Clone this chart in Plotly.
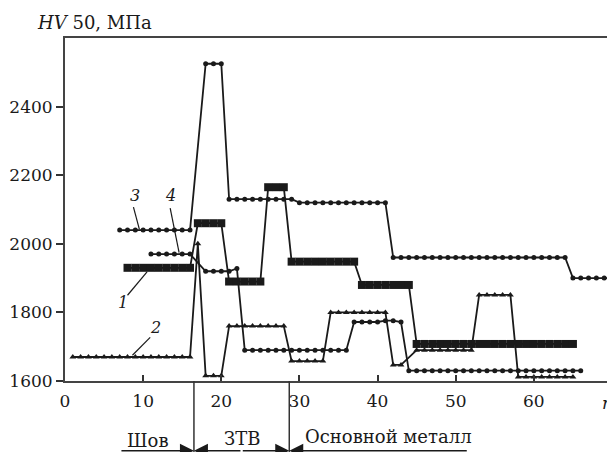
import plotly.graph_objects as go

# ---- data ----
x_ticks = [0, 10, 20, 30, 40, 50, 60]
y_ticks = [1600, 1800, 2000, 2200, 2400]

s1_x = [8, 9, 10, 11, 12, 13, 14, 15, 16,
        17, 18, 19, 20,
        21, 22, 23, 24, 25,
        26, 27, 28,
        29, 30, 31, 32, 33, 34, 35, 36, 37,
        38, 39, 40, 41, 42, 43, 44,
        45, 46, 47, 48, 49, 50, 51, 52, 53, 54, 55, 56, 57, 58, 59, 60, 61, 62, 63, 64, 65]
s1_y = [1930, 1930, 1930, 1930, 1930, 1930, 1930, 1930, 1930,
        2060, 2060, 2060, 2060,
        1890, 1890, 1890, 1890, 1890,
        2165, 2165, 2165,
        1948, 1948, 1948, 1948, 1948, 1948, 1948, 1948, 1948,
        1880, 1880, 1880, 1880, 1880, 1880, 1880,
        1708, 1708, 1708, 1708, 1708, 1708, 1708, 1708, 1708, 1708, 1708, 1708, 1708, 1708,
        1708, 1708, 1708, 1708, 1708, 1708, 1708]

s2_x = [1, 2, 3, 4, 5, 6, 7, 8, 9, 10, 11, 12, 13, 14, 15, 16,
        17,
        18, 19, 20,
        21, 22, 23, 24, 25, 26, 27, 28,
        29, 30, 31, 32, 33,
        34, 35, 36, 37, 38, 39, 40, 41,
        42, 43,
        45, 46, 47, 48, 49, 50, 51, 52,
        53, 54, 55, 56, 57,
        58, 59, 60, 61, 62, 63, 64, 65]
s2_y = [1670, 1670, 1670, 1670, 1670, 1670, 1670, 1670, 1670, 1670, 1670, 1670, 1670, 1670, 1670, 1670,
        2000,
        1615, 1615, 1615,
        1760, 1760, 1760, 1760, 1760, 1760, 1760, 1760,
        1658, 1658, 1658, 1658, 1658,
        1800, 1800, 1800, 1800, 1800, 1800, 1800, 1800,
        1647, 1647,
        1690, 1690, 1690, 1690, 1690, 1690, 1690, 1690,
        1851, 1851, 1851, 1851, 1851,
        1612, 1612, 1612, 1612, 1612, 1612, 1612, 1612]

s3_x = [7, 8, 9, 10, 11, 12, 13, 14, 15, 16,
        18, 19, 20,
        21, 22, 23, 24, 25, 26, 27, 28, 29,
        30, 31, 32, 33, 34, 35, 36, 37, 38, 39, 40, 41,
        42, 43, 44, 45, 46, 47, 48, 49, 50, 51, 52, 53, 54, 55, 56, 57, 58, 59, 60, 61, 62, 63, 64,
        65, 66, 67, 68, 69, 70]
s3_y = [2040, 2040, 2040, 2040, 2040, 2040, 2040, 2040, 2040, 2040,
        2525, 2525, 2525,
        2130, 2130, 2130, 2130, 2130, 2130, 2130, 2130, 2130,
        2120, 2120, 2120, 2120, 2120, 2120, 2120, 2120, 2120, 2120, 2120, 2120,
        1960, 1960, 1960, 1960, 1960, 1960, 1960, 1960, 1960, 1960, 1960, 1960, 1960, 1960,
        1960, 1960, 1960, 1960, 1960, 1960, 1960, 1960, 1960,
        1900, 1900, 1900, 1900, 1900, 1900]

s4_x = [11, 12, 13, 14, 15, 16,
        18, 19, 20, 21,
        22,
        23, 24, 25, 26, 27, 28, 29, 30, 31, 32, 33, 34, 35, 36,
        37, 38, 39, 40, 41, 42, 43,
        44, 45, 46, 47, 48, 49, 50, 51, 52, 53, 54, 55, 56, 57, 58, 59, 60, 61, 62, 63, 64, 65, 66]
s4_y = [1970, 1970, 1970, 1970, 1970, 1970,
        1920, 1920, 1920, 1920,
        1928,
        1690, 1690, 1690, 1690, 1690, 1690, 1690, 1690, 1690, 1690, 1690, 1690, 1690, 1690,
        1772, 1772, 1772, 1772, 1776, 1776, 1772,
        1630, 1630, 1630, 1630, 1630, 1630, 1630, 1630, 1630, 1630, 1630, 1630, 1630, 1630,
        1630, 1630, 1630, 1630, 1630, 1630, 1630, 1630, 1630]

zone_names = ["Шов", "ЗТВ", "Основной металл"]
zone_bounds = [16.5, 28.7]

FONT = "DejaVu Serif"
INK = "#1a1a1a"

fig = go.Figure()
fig.add_trace(go.Scatter(x=s1_x, y=s1_y, mode="lines+markers",
                         line=dict(color=INK, width=1.8),
                         marker=dict(symbol="square", size=8, color=INK)))
fig.add_trace(go.Scatter(x=s2_x, y=s2_y, mode="lines+markers",
                         line=dict(color=INK, width=1.8),
                         marker=dict(symbol="triangle-up", size=6, color=INK)))
fig.add_trace(go.Scatter(x=s3_x, y=s3_y, mode="lines+markers",
                         line=dict(color=INK, width=1.8),
                         marker=dict(symbol="circle", size=5, color=INK)))
fig.add_trace(go.Scatter(x=s4_x, y=s4_y, mode="lines+markers",
                         line=dict(color=INK, width=1.8),
                         marker=dict(symbol="circle", size=5, color=INK)))

shapes = []
# leader lines for curve labels
for (x0, y0, x1, y1) in [(8.76, 2107, 9.52, 2042), (13.46, 2104, 14.6, 1974),
                         (8.0, 1850, 10.5, 1918), (10.9, 1727, 8.63, 1675)]:
    shapes.append(dict(type="line", xref="x", yref="y", x0=x0, y0=y0, x1=x1, y1=y1,
                       line=dict(color=INK, width=1.2)))
# zone divider lines below the axis
for xb in zone_bounds:
    shapes.append(dict(type="line", xref="x", yref="paper", x0=xb, x1=xb, y0=0, y1=-0.25,
                       line=dict(color="#333", width=1.5)))

annotations = [
    dict(text="<i>HV</i> 50, МПа", xref="paper", yref="paper", x=-0.055, y=1.045,
         xanchor="left", yanchor="middle", showarrow=False, font=dict(family=FONT, size=18, color=INK)),
    dict(text="<i>n</i>", xref="paper", yref="paper", x=0.978, y=-0.063, xanchor="left",
         yanchor="middle", showarrow=False, font=dict(family=FONT, size=17, color=INK)),
]
for txt, xx, yy in [("3", 9.0, 2142), ("4", 13.46, 2142), ("1", 7.37, 1830), ("2", 11.56, 1756)]:
    annotations.append(dict(text="<i>" + txt + "</i>", xref="x", yref="y", x=xx, y=yy, showarrow=False,
                            xanchor="center", yanchor="middle",
                            font=dict(family=FONT, size=16, color=INK)))
for txt, xx, yy in [(zone_names[0], 10.67, -0.174), (zone_names[1], 22.7, -0.168),
                    (zone_names[2], 41.4, -0.162)]:
    annotations.append(dict(text=txt, xref="x", yref="paper", x=xx, y=yy, showarrow=False,
                            xanchor="center", yanchor="middle",
                            font=dict(family=FONT, size=18, color=INK)))
arrow_y = -0.2032
for tip, ax in [(zone_bounds[0], -74), (zone_bounds[0], 48), (zone_bounds[1], -48), (zone_bounds[1], 179)]:
    annotations.append(dict(text="", xref="x", yref="paper", x=tip, y=arrow_y, ax=ax, ay=0,
                            axref="pixel", ayref="pixel", showarrow=True, arrowhead=2,
                            arrowsize=2.0, arrowwidth=1.4, arrowcolor=INK))

# page body has an 8px default margin: figure is sized/offset to compensate
fig.update_layout(
    width=607, height=444,
    margin=dict(l=54, r=1, t=30, b=71),
    paper_bgcolor="white", plot_bgcolor="white",
    showlegend=False,
    font=dict(family=FONT, size=17, color=INK),
    shapes=shapes, annotations=annotations,
)
fig.update_xaxes(range=[0, 70], tickvals=x_ticks, ticktext=[str(v) for v in x_ticks],
                 ticks="inside", ticklen=6, tickwidth=1.5, tickcolor="#333",
                 showline=True, linecolor="#444", linewidth=2, mirror=True,
                 showgrid=False, zeroline=False, ticklabelstandoff=4)
fig.update_yaxes(range=[1600, 2600], tickvals=y_ticks, ticktext=[str(v) for v in y_ticks],
                 ticks="outside", ticklen=7, tickwidth=1.5, tickcolor="#333",
                 showline=True, linecolor="#444", linewidth=2, mirror=True,
                 showgrid=False, zeroline=False)

fig.write_html("out.html")
